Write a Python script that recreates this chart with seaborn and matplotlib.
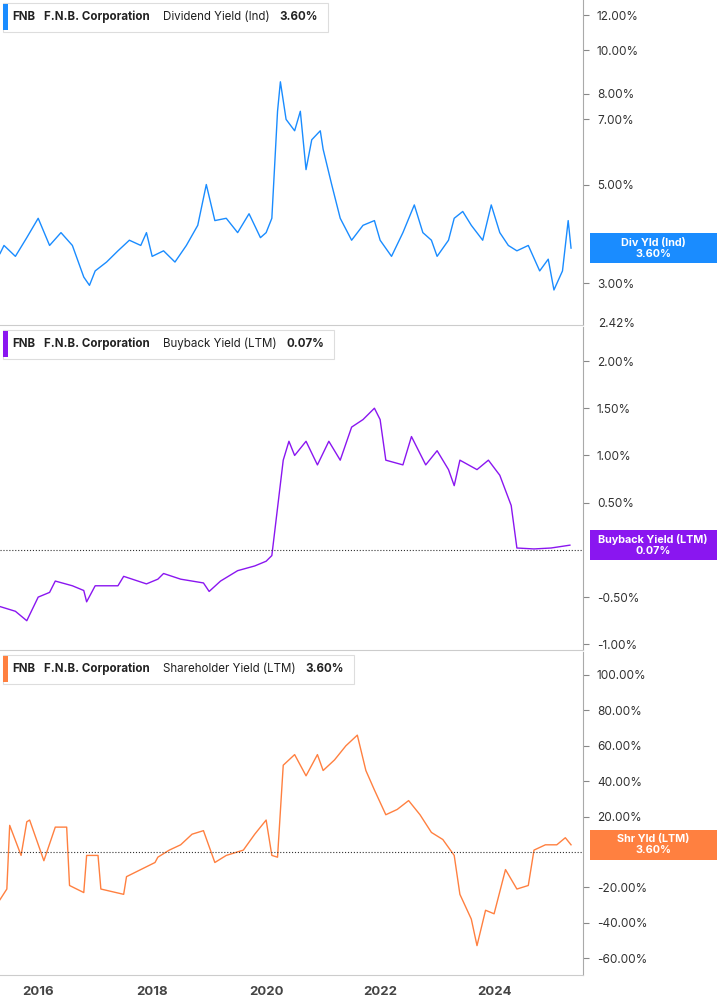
import matplotlib
matplotlib.use("Agg")
import matplotlib.pyplot as plt
import matplotlib.ticker as mt
from matplotlib.patches import Rectangle
import seaborn as sns
import pandas as pd

plt.rcParams["font.family"] = "Inter"

div_t = [2015.33,2015.4,2015.6,2015.8,2016.0,2016.2,2016.4,2016.6,2016.8,2016.9,2017.0,2017.2,2017.4,2017.6,2017.8,2017.9,2018.0,2018.2,2018.4,2018.6,2018.8,2018.95,2019.1,2019.3,2019.5,2019.7,2019.9,2020.0,2020.1,2020.2,2020.25,2020.35,2020.5,2020.6,2020.7,2020.8,2020.95,2021.0,2021.15,2021.3,2021.5,2021.7,2021.9,2022.0,2022.2,2022.4,2022.6,2022.75,2022.9,2023.0,2023.2,2023.3,2023.45,2023.6,2023.8,2023.95,2024.1,2024.25,2024.4,2024.6,2024.8,2024.95,2025.05,2025.2,2025.3,2025.35]
div_v = [3.5,3.65,3.45,3.8,4.2,3.65,3.9,3.65,3.1,2.97,3.2,3.35,3.55,3.75,3.65,3.9,3.45,3.55,3.35,3.65,4.05,5.0,4.15,4.2,3.9,4.3,3.8,3.9,4.2,7.3,8.5,7.0,6.6,7.3,5.4,6.3,6.6,6.0,5.0,4.2,3.75,4.05,4.15,3.75,3.45,3.9,4.5,3.9,3.75,3.45,3.75,4.2,4.35,4.05,3.75,4.5,3.9,3.65,3.55,3.65,3.2,3.4,2.9,3.2,4.15,3.6]

bb_t = [2015.33,2015.6,2015.8,2016.0,2016.2,2016.3,2016.6,2016.8,2016.85,2017.0,2017.4,2017.5,2017.9,2018.1,2018.2,2018.5,2018.9,2019.0,2019.2,2019.5,2019.8,2020.0,2020.1,2020.3,2020.4,2020.5,2020.7,2020.9,2021.1,2021.3,2021.5,2021.7,2021.9,2022.0,2022.1,2022.4,2022.55,2022.8,2023.0,2023.2,2023.3,2023.4,2023.7,2023.9,2024.1,2024.3,2024.4,2024.7,2025.0,2025.33]
bb_v = [-0.6,-0.65,-0.75,-0.5,-0.45,-0.33,-0.38,-0.43,-0.55,-0.38,-0.38,-0.28,-0.36,-0.31,-0.25,-0.31,-0.35,-0.44,-0.33,-0.22,-0.17,-0.12,-0.06,0.95,1.15,1.0,1.15,0.9,1.15,0.95,1.3,1.38,1.5,1.38,0.95,0.9,1.2,0.9,1.05,0.85,0.68,0.95,0.85,0.95,0.79,0.47,0.02,0.01,0.02,0.05]

sh_t = [2015.33,2015.45,2015.5,2015.7,2015.8,2015.85,2016.1,2016.3,2016.5,2016.55,2016.8,2016.85,2017.05,2017.1,2017.5,2017.55,2017.8,2018.05,2018.1,2018.3,2018.5,2018.7,2018.9,2019.1,2019.3,2019.5,2019.6,2019.8,2020.0,2020.1,2020.2,2020.3,2020.5,2020.7,2020.9,2021.0,2021.2,2021.4,2021.6,2021.75,2021.9,2022.1,2022.3,2022.5,2022.7,2022.9,2023.1,2023.3,2023.4,2023.6,2023.7,2023.85,2024.0,2024.2,2024.4,2024.6,2024.7,2024.9,2025.1,2025.25,2025.35]
sh_v = [-27,-21,15,-2,17,18,-5,14,14,-19,-23,-2,-2,-21,-24,-14,-10,-6,-3,1,4,10,12,-6,-2,0,1,10,18,-2,-3,49,55,43,55,46,52,60,66,46,35,21,24,29,21,11,7,-2,-24,-38,-53,-33,-35,-10,-21,-19,1,4,4,8,4]

xticks = [2016,2018,2020,2022,2024]

W, H = 717, 1005
fig = plt.figure(figsize=(W/100, H/100), dpi=100)
fw = 583/W
def mkax(top, bot):
    return fig.add_axes([0, 1-bot/H, fw, (bot-top)/H])
ax1 = mkax(0, 325); ax2 = mkax(327, 650); ax3 = mkax(652, 975)

panels = [
    (ax1, 0, div_t, div_v, "#1a8cff", "Dividend Yield (Ind)", "3.60%", "Div Yld (Ind)\n3.60%"),
    (ax2, 327, bb_t, bb_v, "#8a16f0", "Buyback Yield (LTM)", "0.07%", "Buyback Yield (LTM)\n0.07%"),
    (ax3, 652, sh_t, sh_v, "#ff8040", "Shareholder Yield (LTM)", "3.60%", "Shr Yld (LTM)\n3.60%"),
]
for ax, top, t, v, c, name, val, lab in panels:
    df = pd.DataFrame({"t": t, "v": v})
    sns.lineplot(data=df, x="t", y="v", ax=ax, color=c, lw=1.0)
    ax.set_xlim(2015.33, 2025.56)
    ax.set_xlabel(""); ax.set_ylabel("")
    ax.yaxis.tick_right()
    ax.tick_params(axis="y", length=4, color="#888", labelsize=8.5, labelcolor="#333", pad=6)
    for s in ["left", "top"]:
        ax.spines[s].set_visible(False)
    ax.spines["right"].set_color("#aaa")
    ax.spines["bottom"].set_color("#ccc")
    ax.set_xticks(xticks)

ax1.set_yscale("log")
ax1.set_ylim(2.42, 12.97)
ax1.yaxis.set_major_locator(mt.FixedLocator([3, 5, 7, 8, 10, 12]))
ax1.yaxis.set_minor_locator(mt.NullLocator())
ax1.yaxis.set_major_formatter(mt.FuncFormatter(lambda x, p: f"{x:.2f}%"))
fig.text(598/W, 1-324/H, "2.42%", fontsize=8.5, color="#333", va="center", ha="left")

ax2.set_ylim(-1.06, 2.36)
ax2.set_yticks([-1.0, -0.5, 0.5, 1.0, 1.5, 2.0])
ax2.yaxis.set_major_formatter(mt.FuncFormatter(lambda x, p: f"{x:.2f}%"))
ax2.axhline(0, color="#333", ls=":", lw=0.8)

ax3.set_ylim(-69.6, 113)
ax3.set_yticks([-60, -40, -20, 20, 40, 60, 80, 100])
ax3.yaxis.set_major_formatter(mt.FuncFormatter(lambda x, p: f"{x:.2f}%"))
ax3.axhline(0, color="#333", ls=":", lw=0.8)

for ax in (ax1, ax2):
    ax.tick_params(axis="x", labelbottom=False, length=0)
ax3.tick_params(axis="x", labelsize=9.5, labelcolor="#444", length=0, pad=8)
for l in ax3.get_xticklabels():
    l.set_fontweight("bold")

def px(x, y):
    return x/W, 1-y/H

renderer = fig.canvas.get_renderer()
for ax, top, t, v, c, name, val, lab in panels:
    yc = top + 17
    x = 12
    pieces = [("FNB", "bold", 9), ("F.N.B. Corporation", "bold", 13), (name, "normal", 10), (val, "bold", 10)]
    for s, wgt, gap in pieces:
        tx = fig.text(*px(x, yc), s, fontsize=8.3, fontweight=wgt, color="#222", va="center", zorder=5)
        x = tx.get_window_extent(renderer).x1 + gap
    bx = x
    fig.patches.append(Rectangle(px(3, top+32), (bx-3)/W, 29/H, transform=fig.transFigure,
                                 fc="white", ec="#ddd", lw=0.8, zorder=3))
    fig.patches.append(Rectangle(px(3, top+30), 5/W, 26/H, transform=fig.transFigure,
                                 fc=c, ec="none", zorder=4))
    yd = ax.transData.transform((2020, v[-1]))[1]
    yfig = yd / fig.dpi / fig.get_figheight()
    fig.patches.append(Rectangle((590/W, yfig - 15/H), 127/W, 30/H, transform=fig.transFigure,
                                 fc=c, ec="none", zorder=6))
    fig.text(653/W, yfig, lab, fontsize=7.8, fontweight="bold", color="white", ha="center",
             va="center", linespacing=1.1, zorder=7)

fig.savefig("out.png", dpi=100)
